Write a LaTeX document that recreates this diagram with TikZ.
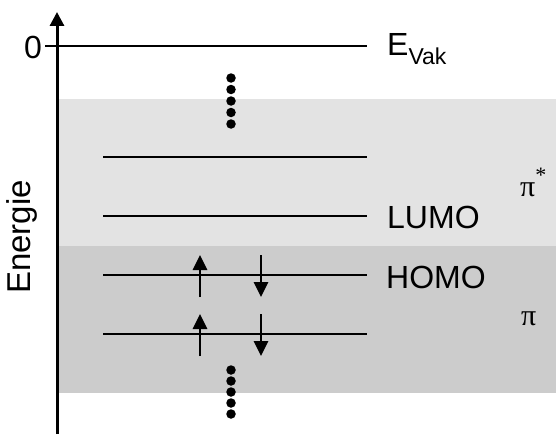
\documentclass[tikz,border=0pt]{standalone}
\usepackage{fontspec}
\setmainfont{Liberation Sans}
\newfontfamily\pifont{Liberation Serif}
\usetikzlibrary{arrows.meta}
\begin{document}
\begin{tikzpicture}[x=1pt,y=-1pt,
  level/.style={line width=2.8pt},
  axis/.style={line width=3pt,-{Triangle[width=14pt,length=14pt]}},
  spin/.style={line width=2.8pt,-{Triangle[width=14pt,length=15pt]}},
  lbl/.style={font=\fontsize{32}{36}\selectfont, anchor=west, inner sep=0pt},
  pil/.style={font=\pifont\fontsize{30}{34}\selectfont, anchor=west, inner sep=0pt},
  dot/.style={circle, fill=black, inner sep=0pt, minimum size=9.5pt}]
\useasboundingbox (0,0) rectangle (556,436);
\fill[gray!22] (57,99) rectangle (556,246);
\fill[gray!40] (57,246) rectangle (556,393);
% axis
\coordinate (ab) at (57,434);
\coordinate (at) at (57,12);
\draw[axis] (ab) -- (at);
% levels
\coordinate (z0) at (45,46); \coordinate (z1) at (367,46);
\draw[level] (z0) -- (z1);
\coordinate (l1a) at (103,157); \coordinate (l1b) at (367,157);
\coordinate (l2a) at (103,216); \coordinate (l2b) at (367,216);
\coordinate (l3a) at (103,275); \coordinate (l3b) at (367,275);
\coordinate (l4a) at (103,334); \coordinate (l4b) at (367,334);
\draw[level] (l1a) -- (l1b);
\draw[level] (l2a) -- (l2b);
\draw[level] (l3a) -- (l3b);
\draw[level] (l4a) -- (l4b);
% labels
\node[lbl, anchor=east] (zero) at (42,47) {0};
\node[lbl] (evak) at (387,49) {E\raisebox{-9pt}{\fontsize{23}{26}\selectfont Vak}};
\node[lbl] (lumo) at (387,217) {LUMO};
\node[lbl] (homo) at (386,277) {HOMO};
\node[pil, anchor=base west] (pistar) at (520,196) {π\raisebox{14pt}{\fontsize{22}{24}\selectfont *}};
\node[pil, anchor=base west] (pi) at (521,325) {π};
\node[lbl, rotate=90, anchor=center, font=\fontsize{33}{36}\selectfont] (en) at (22,237) {Energie};
% spins
\coordinate (u1a) at (200,297); \coordinate (u1b) at (200,255);
\coordinate (d1a) at (261,255); \coordinate (d1b) at (261,297);
\coordinate (u2a) at (200,356); \coordinate (u2b) at (200,314);
\coordinate (d2a) at (261,314); \coordinate (d2b) at (261,356);
\draw[spin] (u1a) -- (u1b);
\draw[spin] (d1a) -- (d1b);
\draw[spin] (u2a) -- (u2b);
\draw[spin] (d2a) -- (d2b);
% dots
\foreach \i in {0,...,4} {
  \node[dot] (t\i) at (231,78+11.5*\i) {};
  \node[dot] (b\i) at (231,370+11*\i) {};
}
\end{tikzpicture}
\end{document}
